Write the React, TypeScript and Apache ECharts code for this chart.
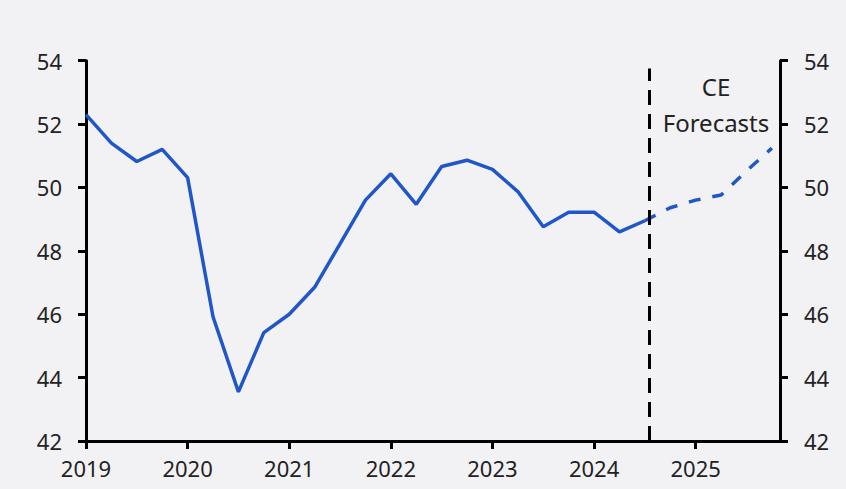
import React, { useEffect, useRef } from "react";
import * as echarts from "echarts";

const actualX = [
  2019, 2019.25, 2019.5, 2019.75, 2020, 2020.25, 2020.5, 2020.75, 2021, 2021.25, 2021.5, 2021.75,
  2022, 2022.25, 2022.5, 2022.75, 2023, 2023.25, 2023.5, 2023.75, 2024, 2024.25, 2024.5,
];
const actualY = [
  52.3, 51.4, 50.82, 51.2, 50.31, 45.92, 43.55, 45.42, 46.0, 46.85, 48.22, 49.6,
  50.43, 49.47, 50.66, 50.86, 50.57, 49.87, 48.76, 49.22, 49.22, 48.6, 48.95,
];
const forecastX = [2024.5, 2024.75, 2025, 2025.25, 2025.5, 2025.75];
const forecastY = [48.95, 49.36, 49.6, 49.76, 50.52, 51.24];

const yearTicks = [2019, 2020, 2021, 2022, 2023, 2024, 2025];
const forecastStart = 2024.54;
const annotation = "CE\nForecasts";

const FONT = "Noto Sans";
const TEXT = "#222222";
const BLUE = "#1f57c9";

export default function App() {
  const ref = useRef<HTMLDivElement>(null);
  useEffect(() => {
    if (!ref.current) return;
    const chart = echarts.init(ref.current, null, { renderer: "svg" });
    const yAxisBase = {
      type: "value",
      min: 42,
      max: 54,
      interval: 2,
      axisLine: { show: true, lineStyle: { color: "#000", width: 3 } },
      axisTick: { show: true, length: 8, lineStyle: { color: "#000", width: 3 } },
      axisLabel: { color: TEXT, fontSize: 22, fontFamily: FONT, margin: 24 },
      splitLine: { show: false },
    };
    chart.setOption({
      animation: false,
      backgroundColor: "#f2f2f5",
      grid: { left: 86, right: 66, top: 60.7, bottom: 48 },
      xAxis: {
        type: "value",
        min: 2019,
        max: 2025.83,
        axisLine: { show: true, onZero: false, lineStyle: { color: "#000", width: 3 } },
        axisTick: { show: true, length: 8, customValues: yearTicks, lineStyle: { color: "#000", width: 3 } },
        axisLabel: {
          customValues: yearTicks,
          color: TEXT,
          fontSize: 22,
          fontFamily: FONT,
          margin: 16,
          formatter: (v: number) => String(Math.round(v)),
        },
        splitLine: { show: false },
      },
      yAxis: [
        { ...yAxisBase, position: "left" },
        { ...yAxisBase, position: "right" },
      ],
      series: [
        {
          type: "line",
          data: actualX.map((x, i) => [x, actualY[i]]),
          symbol: "none",
          lineStyle: { color: BLUE, width: 3.5 },
          z: 3,
        },
        {
          type: "line",
          data: forecastX.map((x, i) => [x, forecastY[i]]),
          symbol: "none",
          lineStyle: { color: BLUE, width: 3.5, type: [12, 12] },
          z: 3,
          markLine: {
            silent: true,
            symbol: "none",
            label: { show: false },
            lineStyle: { color: "#000", width: 3, type: [15, 9] },
            data: [[{ coord: [forecastStart, 42] }, { coord: [forecastStart, 53.75] }]],
          },
          markPoint: {
            silent: true,
            symbol: "circle",
            symbolSize: 0,
            data: [{ coord: [2025.2, 52.61] }],
            label: {
              show: true,
              position: "inside",
              formatter: annotation,
              color: TEXT,
              fontSize: 24,
              fontFamily: FONT,
              lineHeight: 36,
              align: "center",
              verticalAlign: "middle",
            },
          },
        },
      ],
    });
    return () => chart.dispose();
  }, []);
  return (
    <div
      ref={ref}
      style={{ position: "fixed", left: 0, top: 0, width: 846, height: 489 }}
    />
  );
}
